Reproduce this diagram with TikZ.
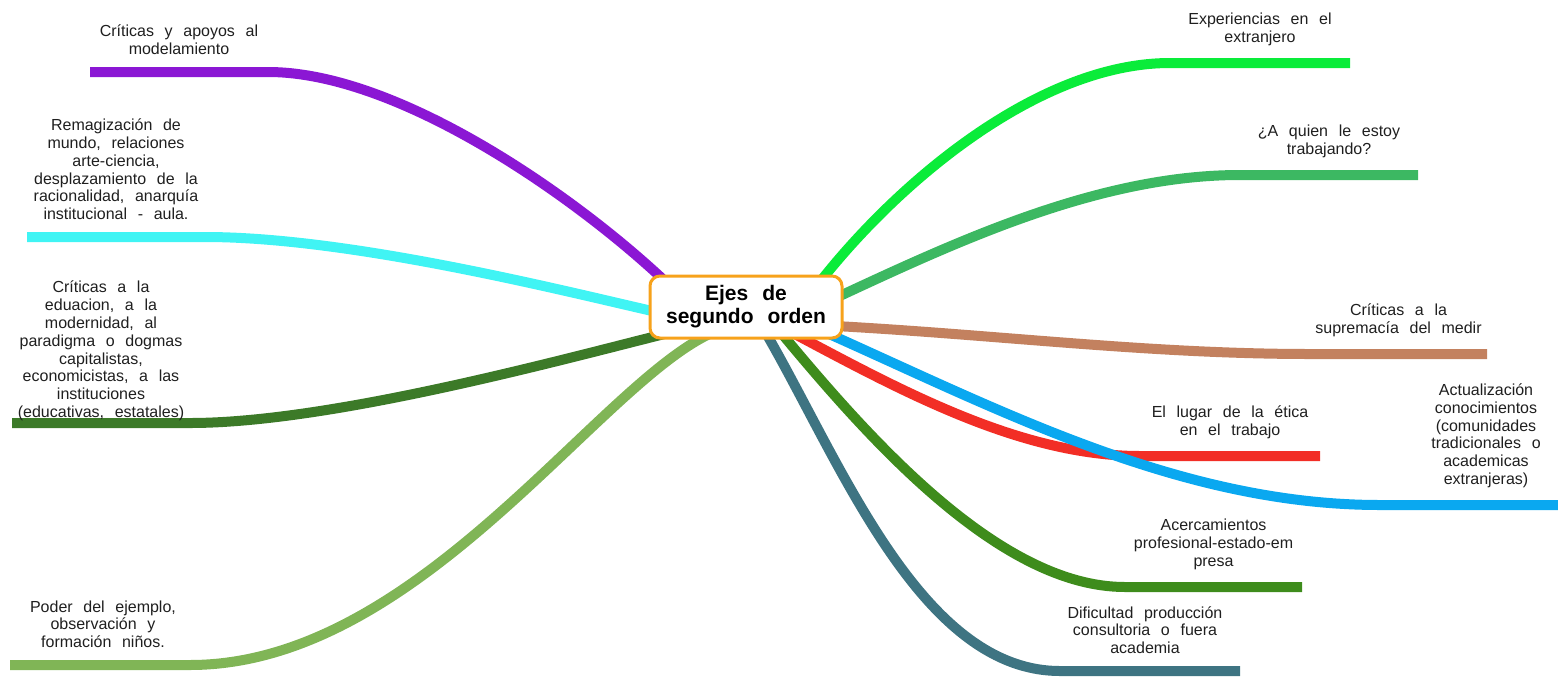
\documentclass[tikz,border=0pt]{standalone}
\usepackage{fontspec}
\setmainfont[WordSpace=2.4]{Liberation Sans}
\usetikzlibrary{positioning,calc}
\pgfdeclarelayer{background}
\pgfsetlayers{background,main}

\definecolor{cPurple}{RGB}{139,23,212}
\definecolor{cCyan}{RGB}{64,244,244}
\definecolor{cDarkGreen}{RGB}{60,122,40}
\definecolor{cLightGreen}{RGB}{128,181,86}
\definecolor{cBright}{RGB}{10,236,58}
\definecolor{cMedGreen}{RGB}{60,184,98}
\definecolor{cBrown}{RGB}{195,129,95}
\definecolor{cRed}{RGB}{242,46,38}
\definecolor{cBlue}{RGB}{10,168,240}
\definecolor{cGreen}{RGB}{62,140,28}
\definecolor{cTeal}{RGB}{62,116,130}
\definecolor{cOrange}{RGB}{247,162,27}

\begin{document}
\begin{tikzpicture}[x=1pt,y=-1pt,
        hub/.style={draw=cOrange, line width=3pt, fill=white,
                    rounded corners=10pt, minimum width=192pt,
                    minimum height=62pt, align=center,
                    font=\fontsize{21}{23}\selectfont\bfseries},
        leaf/.style={align=center, inner sep=0pt, text=black!88,
                     font=\fontsize{16}{17.8}\selectfont},
        branch/.style={line width=10pt, draw=#1}]
  \useasboundingbox (0,0) rectangle (1558,681);
  \node[hub] (hub) at (746,307) {Ejes de\\segundo orden};

  % ends of the branches
  \coordinate (modelo-k) at (268,72);   \coordinate (modelo-e) at (90,72);
  \coordinate (remag-k) at (205,237);   \coordinate (remag-e) at (27,237);
  \coordinate (educa-k) at (190,423);   \coordinate (educa-e) at (12,423);
  \coordinate (ejemplo-k) at (190,665); \coordinate (ejemplo-e) at (10,665);
  \coordinate (extra-k) at (1170,63);   \coordinate (extra-e) at (1350,63);
  \coordinate (quien-k) at (1240,175);  \coordinate (quien-e) at (1418,175);
  \coordinate (medir-k) at (1310,354);  \coordinate (medir-e) at (1487,354);
  \coordinate (etica-k) at (1140,456);  \coordinate (etica-e) at (1320,456);
  \coordinate (actual-k) at (1380,505); \coordinate (actual-e) at (1560,505);
  \coordinate (acerca-k) at (1125,587); \coordinate (acerca-e) at (1302,587);
  \coordinate (dific-k) at (1060,671);  \coordinate (dific-e) at (1240,671);

  \begin{pgfonlayer}{background}
    \draw[branch=cPurple] ($(hub.north west)+(20,10)$) .. controls (580,200) and (400,72) .. (modelo-k) -- (modelo-e);
    \draw[branch=cCyan] ($(hub.west)+(8,5)$) .. controls (560,290) and (350,237) .. (remag-k) -- (remag-e);
    \draw[branch=cDarkGreen] ($(hub.south west)+(18,-6)$) .. controls (560,360) and (330,423) .. (educa-k) -- (educa-e);
    \draw[branch=cLightGreen] ($(hub.south)+(-31,-8)$) .. controls (600,380) and (420,665) .. (ejemplo-k) -- (ejemplo-e);
    \draw[branch=cBright] ($(hub.north east)+(-24,8)$) .. controls (900,180) and (1040,63) .. (extra-k) -- (extra-e);
    \draw[branch=cMedGreen] ($(hub.east)+(-8,-9)$) .. controls (960,240) and (1100,175) .. (quien-k) -- (quien-e);
    \draw[branch=cBrown] ($(hub.east)+(-8,19)$) .. controls (1000,335) and (1150,354) .. (medir-k) -- (medir-e);
    \draw[branch=cTeal] ($(hub.south)+(19,-8)$) .. controls (840,460) and (920,671) .. (dific-k) -- (dific-e);
    \draw[branch=cGreen] ($(hub.south)+(34,-8)$) .. controls (870,440) and (1000,587) .. (acerca-k) -- (acerca-e);
    \draw[branch=cRed] ($(hub.south)+(44,-8)$) .. controls (900,390) and (1020,456) .. (etica-k) -- (etica-e);
    \draw[branch=cBlue] ($(hub.south east)+(-20,-8)$) .. controls (1000,410) and (1180,505) .. (actual-k) -- (actual-e);
  \end{pgfonlayer}

  % labels over the flat part of each branch
  \path (modelo-e) -- coordinate (modelo-m) (modelo-k);
  \path (remag-e) -- coordinate (remag-m) (remag-k);
  \path (educa-e) -- coordinate (educa-m) (educa-k);
  \path (ejemplo-e) -- coordinate (ejemplo-m) (ejemplo-k);
  \path (extra-k) -- coordinate (extra-m) (extra-e);
  \path (quien-k) -- coordinate (quien-m) (quien-e);
  \path (medir-k) -- coordinate (medir-m) (medir-e);
  \path (etica-k) -- coordinate (etica-m) (etica-e);
  \path (actual-k) -- coordinate (actual-m) (actual-e);
  \path (acerca-k) -- coordinate (acerca-m) (acerca-e);
  \path (dific-k) -- coordinate (dific-m) (dific-e);

  \node[leaf, above=17pt of modelo-m] (modelo) {Críticas y apoyos al\\modelamiento};
  \node[leaf, above=17pt of remag-m] (remag) {Remagización de\\mundo, relaciones\\arte-ciencia,\\desplazamiento de la\\racionalidad, anarquía\\institucional - aula.};
  \node[leaf, above=2pt of educa-m] (educa) {Críticas a la\\eduacion, a la\\modernidad, al\\paradigma o dogmas\\capitalistas,\\economicistas, a las\\instituciones\\(educativas, estatales)};
  \node[leaf, above=17pt of ejemplo-m, xshift=3pt] (ejemplo) {Poder del ejemplo,\\observación y\\formación niños.};
  \node[leaf, above=17pt of extra-m] (extra) {Experiencias en el\\extranjero};
  \node[leaf, above=17pt of quien-m] (quien) {¿A quien le estoy\\trabajando?};
  \node[leaf, above=17pt of medir-m] (medir) {Críticas a la\\supremacía del medir};
  \node[leaf, above=17pt of etica-m] (etica) {El lugar de la ética\\en el trabajo};
  \node[leaf, above=17pt of actual-m, xshift=16pt] (actual) {Actualización\\conocimientos\\(comunidades\\tradicionales o\\academicas\\extranjeras)};
  \node[leaf, above=17pt of acerca-m] (acerca) {Acercamientos\\profesional-estado-em\\presa};
  \node[leaf, above=17pt of dific-m, xshift=-5pt] (dific) {Dificultad producción\\consultoria o fuera\\academia};
\end{tikzpicture}
\end{document}
